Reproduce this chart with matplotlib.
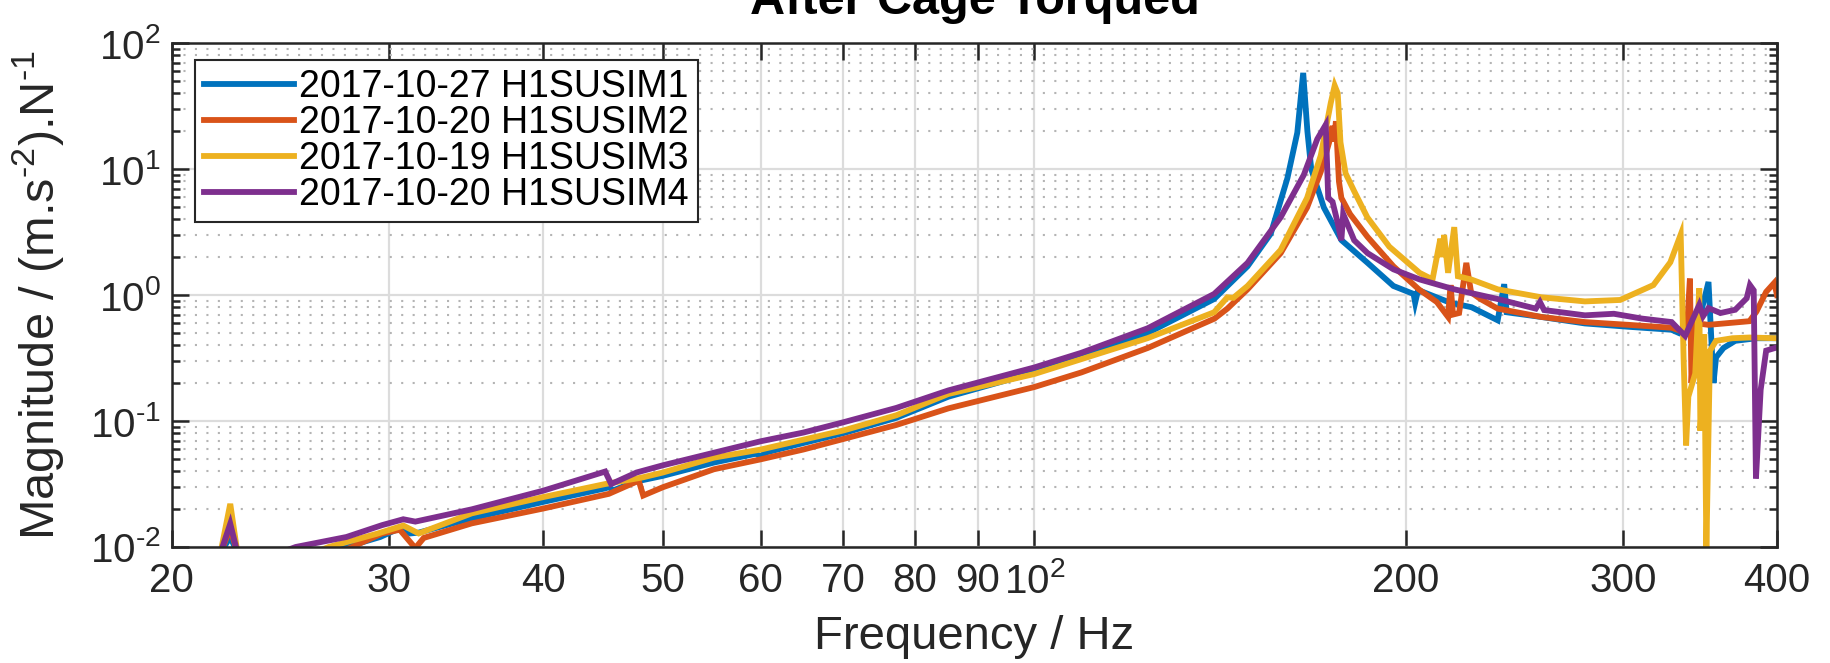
import matplotlib
matplotlib.use('Agg')
from matplotlib import pyplot as plt
from matplotlib.ticker import FixedLocator, FixedFormatter, LogLocator, NullFormatter
import numpy as np

plt.rcParams['font.family'] = ['Liberation Sans', 'DejaVu Sans']
plt.rcParams['mathtext.fontset'] = 'custom'
plt.rcParams['mathtext.rm'] = 'Liberation Sans'
plt.rcParams['mathtext.it'] = 'Liberation Sans:italic'
plt.rcParams['mathtext.bf'] = 'Liberation Sans:bold'
plt.rcParams['mathtext.default'] = 'regular'

# transfer functions (Hz, (m.s^-2)/N)
f_im1 = [21.9, 22.3, 22.6, 27.0, 27.5, 29.5, 30.6, 31.2, 31.7, 35, 40, 44.9, 45.2, 45.6, 47.5, 50,
         55, 59.5, 60, 60.5, 65, 70, 77.3, 85.2, 100, 109.2, 123.6, 139.9, 148.9, 155.5, 160.4,
         163.4, 165.2, 166.5, 167.7, 171.7, 177.4, 186.3, 195.5, 203, 203.6, 204.5, 206, 217.3,
         226.2, 237.5, 240.4, 241.5, 257.6, 279.5, 303, 328.6, 333, 337, 345, 352, 353.5, 355.3,
         357, 362, 370, 385, 400]
m_im1 = [0.009, 0.012, 0.009, 0.0092, 0.0098, 0.012, 0.0141, 0.0128, 0.013, 0.0169, 0.0228, 0.0292,
         0.0298, 0.0282, 0.033, 0.0367, 0.0468, 0.055, 0.052, 0.056, 0.0669, 0.080, 0.106, 0.156,
         0.243, 0.33, 0.50, 0.93, 1.69, 3.07, 8.46, 19.5, 58, 20, 10, 4.95, 2.73, 1.80, 1.18, 1.02,
         0.87, 1.05, 1.07, 0.87, 0.80, 0.63, 1.22, 0.73, 0.67, 0.595, 0.56, 0.53, 0.50, 0.58, 0.57,
         1.27, 0.55, 0.2, 0.32, 0.38, 0.433, 0.454, 0.454]

f_im2 = [21.9, 22.3, 22.6, 27.5, 28.0, 29.6, 30.6, 31.5, 32, 35, 40, 45.2, 47.8, 48.2, 50, 55, 60,
         65, 70, 77.3, 85.2, 100, 109.2, 123.6, 140, 143.4, 148.9, 158.4, 166.4, 170.7, 173.4,
         174.5, 175, 175.6, 176.6, 177.4, 180.3, 186.3, 195.5, 205, 212, 216.5, 217.5, 218.5, 221,
         224, 226, 230, 237.5, 257.6, 279.5, 303, 328.6, 338, 340, 341, 343, 352, 380, 385, 392,
         398, 400]
m_im2 = [0.009, 0.014, 0.009, 0.0093, 0.0100, 0.0128, 0.0137, 0.0098, 0.0118, 0.0154, 0.0202,
         0.0264, 0.0336, 0.0256, 0.0298, 0.0414, 0.0496, 0.0594, 0.0719, 0.093, 0.126, 0.186,
         0.243, 0.38, 0.65, 0.78, 1.11, 2.15, 4.95, 9.5, 16.3, 22, 16.5, 24, 7.97, 5.9, 4.39, 2.89,
         1.69, 1.11, 0.88, 0.67, 1.2, 0.7, 0.72, 1.8, 1.05, 0.93, 0.78, 0.67, 0.61, 0.58, 0.55,
         0.5, 1.35, 0.2, 0.6, 0.58, 0.62, 0.74, 1.06, 1.25, 1.0]

f_im3 = [21.9, 22.3, 22.6, 26.3, 26.8, 29.3, 30.8, 31.7, 35, 40, 44.9, 48.1, 50, 55, 60, 65, 70,
         77.3, 85.2, 100, 109.2, 123.6, 139.9, 143.4, 145, 148.9, 158.4, 166.4, 170.7, 173.9,
         175.2, 176.2, 177.1, 178.8, 181.7, 186.2, 194, 205.3, 210.3, 213.4, 214.2, 214.9, 216.5,
         219, 220.5, 226, 237.5, 257.6, 279.5, 298.5, 317.6, 327.8, 334.2, 336, 337.6, 339, 343.4,
         346, 346.7, 348, 349.2, 350.6, 353, 357, 368, 380, 400]
m_im3 = [0.009, 0.022, 0.009, 0.0093, 0.010, 0.0127, 0.0148, 0.0128, 0.0185, 0.0249, 0.0316,
         0.0356, 0.039, 0.0512, 0.0593, 0.0711, 0.084, 0.111, 0.164, 0.236, 0.31, 0.455, 0.73,
         0.96, 0.95, 1.18, 2.28, 5.9, 12.8, 33.3, 46, 40, 16.3, 9.25, 6.67, 4.14, 2.42, 1.5, 1.33,
         2.8, 2.0, 3.0, 1.5, 3.46, 1.41, 1.33, 1.11, 0.96, 0.89, 0.914, 1.2, 1.82, 3.02, 0.321,
         0.064, 0.156, 0.238, 1.13, 0.0836, 0.177, 0.488, 0.0095, 0.362, 0.433, 0.454, 0.46, 0.454]

f_im4 = [21.9, 22.3, 22.6, 24.7, 25.2, 27.7, 29.6, 30.8, 31.5, 35, 40, 44.9, 45.4, 47.6, 50, 55,
         60, 65, 70, 77.3, 85.2, 100, 109.2, 123.6, 139.9, 148.9, 158.4, 165.4, 169.6, 172.3,
         173.1, 174.5, 176, 177.4, 178, 181.7, 186.3, 195.5, 205.3, 219, 237.5, 255, 257, 259,
         279.5, 295, 311, 328.6, 337, 346, 348.5, 352, 360, 370, 378, 380.3, 383, 384.6, 388, 392,
         400]
m_im4 = [0.009, 0.0153, 0.009, 0.0093, 0.010, 0.012, 0.0149, 0.0166, 0.0159, 0.0199, 0.028,
         0.0397, 0.0316, 0.039, 0.0445, 0.056, 0.069, 0.081, 0.0976, 0.127, 0.175, 0.266, 0.348,
         0.545, 1.02, 1.8, 4.14, 9.0, 17.3, 22.5, 5.9, 5.5, 3.9, 2.72, 4.4, 2.72, 2.15, 1.6, 1.33,
         1.11, 0.93, 0.78, 0.88, 0.76, 0.69, 0.71, 0.65, 0.61, 0.474, 0.836, 0.68, 0.787, 0.72,
         0.764, 0.942, 1.2, 1.09, 0.035, 0.177, 0.362, 0.384]

labels = ['2017-10-27 H1SUSIM1', '2017-10-20 H1SUSIM2', '2017-10-19 H1SUSIM3', '2017-10-20 H1SUSIM4']
colors = ['#0072BD', '#D95319', '#EDB120', '#7E2F8E']

x_ticks = [20, 30, 40, 50, 60, 70, 80, 90, 100, 200, 300, 400]
x_ticklabels = ['20', '30', '40', '50', '60', '70', '80', '90', '$10^2$', '200', '300', '400']
y_ticks = [1e-2, 1e-1, 1e0, 1e1, 1e2]
y_ticklabels = [r'$10^{\text{-}2}$', r'$10^{\text{-}1}$', '$10^{0}$', '$10^{1}$', '$10^{2}$']

fig = plt.figure(figsize=(18.31, 6.63), dpi=100)
ax = fig.add_subplot(111)
fig.subplots_adjust(left=0.0939, right=0.9705, bottom=0.175, top=0.935)

series = [(f_im1, m_im1), (f_im2, m_im2), (f_im3, m_im3), (f_im4, m_im4)]
for (f, m), c, lab in zip(series, colors, labels):
    ax.plot(f, m, color=c, lw=4.2, label=lab, solid_joinstyle='miter')

ax.set_xscale('log')
ax.set_yscale('log')
ax.set_xlim(20, 400)
ax.set_ylim(1e-2, 1e2)

ax.xaxis.set_major_locator(FixedLocator(x_ticks))
ax.xaxis.set_major_formatter(FixedFormatter(x_ticklabels))
ax.xaxis.set_minor_locator(FixedLocator([]))
ax.yaxis.set_major_locator(FixedLocator(y_ticks))
ax.yaxis.set_major_formatter(FixedFormatter(y_ticklabels))
ax.yaxis.set_minor_locator(LogLocator(base=10, subs=np.arange(2, 10)))
ax.yaxis.set_minor_formatter(NullFormatter())

ax.grid(True, which='major', color='#dcdcdc', lw=1.6, ls='-')
ax.grid(True, which='minor', axis='y', color='#b4b4b4', lw=1.5, ls=(0, (1, 4.5)))
ax.set_axisbelow(True)

ax.tick_params(which='both', direction='in', top=True, right=True, colors='#262626',
               labelcolor='#262626', width=1.8)
ax.tick_params(which='major', length=12, labelsize=29)
ax.tick_params(axis='x', which='major', pad=11)
ax.tick_params(axis='y', which='major', pad=8)
ax.tick_params(which='minor', length=6)
for s in ax.spines.values():
    s.set_color('#262626')
    s.set_linewidth(1.8)

ax.set_xlabel('Frequency / Hz', fontsize=34, color='#262626')
ax.set_ylabel(r'Magnitude / (m.s$^{\text{-}2}$).N$^{\text{-}1}$', fontsize=35, color='#262626')
ax.xaxis.set_label_coords(0.5, -0.135)
ax.yaxis.set_label_coords(-0.066, 0.5)
ax.set_title('After Cage Torqued', fontsize=35, fontweight='bold', pad=21)

leg = ax.legend(loc='upper left', bbox_to_anchor=(0.0143, 0.967), borderaxespad=0,
                fontsize=27, handlelength=2.4, handletextpad=0.12, labelspacing=0.0,
                borderpad=0.25, fancybox=False, framealpha=1, edgecolor='#262626')
leg.get_frame().set_linewidth(1.5)

fig.savefig('out.png', dpi=100)
